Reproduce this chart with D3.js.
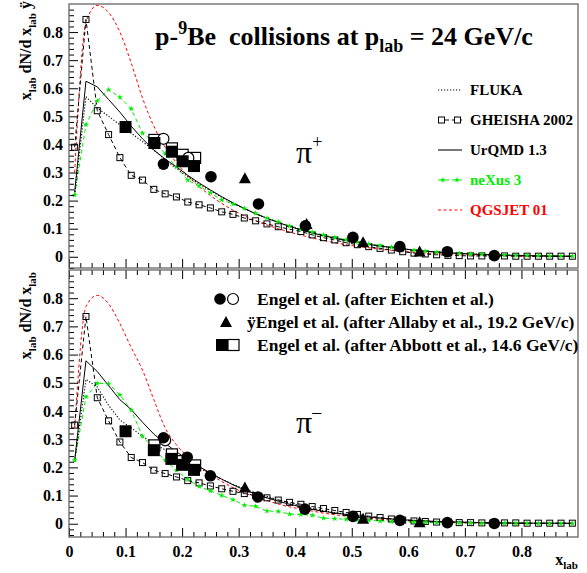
<!DOCTYPE html>
<html>
<head>
<meta charset="utf-8">
<script src="https://cdn.jsdelivr.net/npm/d3@7"></script>
<style>
  html, body { margin: 0; padding: 0; background: #fff; }
  svg { display: block; }
  text { font-family: "Liberation Serif", "Times New Roman", serif; }
</style>
</head>
<body>
<svg id="chart" width="587" height="573"></svg>
<script>
// x_lab grid of the model calculations
const xModel = [0.01,0.03,0.05,0.07,0.09,0.11,0.13,0.15,0.17,0.19,0.21,0.23,0.25,0.27,0.29,0.31,0.33,0.35,0.37,0.39,0.41,0.43,0.45,0.47,0.49,0.51,0.53,0.55,0.57,0.59,0.61,0.63,0.65,0.67,0.69,0.71,0.73,0.75,0.77,0.79,0.81,0.83,0.85,0.87,0.89];

// pi+ model curves
const flukaPlus   = [0.22,0.57,0.53,0.50,0.47,0.44,0.41,0.38,0.345,0.314,0.285,0.259,0.235,0.212,0.191,0.171,0.153,0.137,0.122,0.108,0.096,0.085,0.075,0.066,0.058,0.051,0.044,0.038,0.033,0.028,0.024,0.020,0.017,0.014,0.012,0.010,0.008,0.007,0.006,0.005,0.004,0.003,0.003,0.002,0.002];
const gheishaPlus = [0.39,0.845,0.52,0.435,0.353,0.29,0.273,0.24,0.224,0.213,0.195,0.185,0.174,0.16,0.151,0.138,0.128,0.117,0.107,0.098,0.09,0.078,0.068,0.06,0.05,0.043,0.036,0.03,0.024,0.018,0.013,0.01,0.007,0.005,0.004,0.003,0.003,0.003,0.003,0.002,0.002,0.002,0.002,0.002,0.002];
const urqmdPlus   = [0.23,0.625,0.605,0.56,0.515,0.465,0.42,0.38,0.348,0.32,0.29,0.263,0.238,0.214,0.192,0.172,0.153,0.137,0.122,0.108,0.096,0.085,0.075,0.066,0.058,0.051,0.044,0.038,0.033,0.028,0.024,0.020,0.017,0.014,0.012,0.010,0.008,0.007,0.006,0.005,0.004,0.003,0.003,0.002,0.002];
const nexusPlus   = [0.22,0.47,0.555,0.595,0.568,0.527,0.44,0.41,0.367,0.32,0.273,0.252,0.228,0.202,0.188,0.172,0.155,0.138,0.125,0.11,0.099,0.088,0.078,0.069,0.061,0.053,0.046,0.04,0.034,0.029,0.024,0.02,0.016,0.014,0.012,0.01,0.009,0.008,0.006,0.005,0.005,0.004,0.003,0.003,0.002];
const qgsjetPlus  = [0.30,0.835,0.895,0.87,0.80,0.69,0.565,0.465,0.39,0.335,0.288,0.25,0.218,0.19,0.166,0.146,0.128,0.113,0.1,0.088,0.077,0.067,0.058,0.05,0.043,0.037,0.032,0.027,0.023,0.019,0.016,0.013,0.011,0.009,0.007,0.006,0.005,0.004,0.003,0.003,0.002,0.002,0.002,0.001,0.001];

// pi- model curves
const flukaMinus   = [0.22,0.512,0.485,0.42,0.368,0.34,0.31,0.285,0.262,0.24,0.218,0.198,0.178,0.158,0.14,0.124,0.11,0.097,0.085,0.074,0.064,0.055,0.047,0.04,0.034,0.029,0.024,0.02,0.017,0.014,0.012,0.01,0.008,0.007,0.006,0.005,0.004,0.003,0.003,0.002,0.002,0.002,0.001,0.001,0.001];
const gheishaMinus = [0.35,0.735,0.447,0.365,0.29,0.235,0.217,0.19,0.178,0.166,0.153,0.145,0.134,0.124,0.115,0.107,0.1,0.092,0.084,0.076,0.069,0.061,0.054,0.047,0.04,0.033,0.027,0.022,0.017,0.013,0.01,0.008,0.006,0.005,0.004,0.004,0.003,0.003,0.003,0.003,0.002,0.002,0.002,0.002,0.002];
const urqmdMinus   = [0.225,0.578,0.54,0.49,0.44,0.405,0.36,0.318,0.285,0.255,0.228,0.203,0.18,0.158,0.138,0.12,0.106,0.092,0.08,0.069,0.06,0.051,0.044,0.038,0.033,0.028,0.024,0.02,0.017,0.014,0.012,0.01,0.008,0.007,0.006,0.005,0.004,0.003,0.003,0.002,0.002,0.002,0.002,0.002,0.002];
const nexusMinus   = [0.225,0.45,0.498,0.497,0.457,0.403,0.31,0.265,0.225,0.19,0.157,0.132,0.117,0.1,0.085,0.066,0.062,0.045,0.044,0.034,0.033,0.03,0.02,0.018,0.016,0.014,0.012,0.01,0.008,0.007,0.006,0.005,0.004,0.004,0.003,0.003,0.002,0.002,0.002,0.002,0.002,0.001,0.001,0.001,0.001];
const qgsjetMinus  = [0.34,0.77,0.81,0.78,0.71,0.625,0.545,0.44,0.34,0.28,0.238,0.205,0.175,0.15,0.128,0.11,0.095,0.082,0.07,0.06,0.052,0.045,0.038,0.032,0.027,0.023,0.019,0.016,0.013,0.011,0.009,0.007,0.006,0.005,0.004,0.003,0.003,0.002,0.002,0.002,0.001,0.001,0.001,0.001,0.001];

// Measurements, pi+
const eichtenPlusX     = [0.167,0.251,0.335,0.418,0.502,0.585,0.669,0.752];
const eichtenPlusY     = [0.33,0.285,0.188,0.11,0.069,0.036,0.018,0.004];
const eichtenOpenPlusX = [0.167,0.211];
const eichtenOpenPlusY = [0.42,0.352];
const allabyPlusX      = [0.311,0.42,0.52,0.62];
const allabyPlusY      = [0.28,0.117,0.052,0.019];
const abbottPlusX      = [0.1,0.151,0.182,0.201,0.221];
const abbottPlusY      = [0.462,0.405,0.374,0.34,0.323];
const abbottOpenPlusX  = [0.151,0.182,0.201,0.223];
const abbottOpenPlusY  = [0.416,0.386,0.363,0.352];

// Measurements, pi-
const eichtenMinusX     = [0.167,0.209,0.25,0.334,0.417,0.502,0.585,0.669,0.752];
const eichtenMinusY     = [0.305,0.236,0.17,0.095,0.052,0.026,0.012,0.004,0.001];
const eichtenOpenMinusX = [0.17];
const eichtenOpenMinusY = [0.296];
const allabyMinusX      = [0.311,0.52,0.62];
const allabyMinusY      = [0.129,0.018,0.005];
const abbottMinusX      = [0.1,0.15,0.181,0.2,0.221];
const abbottMinusY      = [0.328,0.261,0.23,0.209,0.191];
const abbottOpenMinusX  = [0.151,0.182,0.201,0.223];
const abbottOpenMinusY  = [0.278,0.246,0.222,0.207];

// Axis ticks
const xMajor = [0,0.1,0.2,0.3,0.4,0.5,0.6,0.7,0.8];
const yMajor = [0,0.1,0.2,0.3,0.4,0.5,0.6,0.7,0.8];
const tickText = d => d === 0 ? "0" : d3.format(".1f")(d);

const modelNames = ["FLUKA","GHEISHA 2002","UrQMD 1.3","neXus 3","QGSJET 01"];
const dataNames = ["Engel et al. (after Eichten et al.)",
                   "\u00ffEngel et al. (after Allaby et al., 19.2 GeV/c)",
                   "Engel et al. (after Abbott et al., 14.6 GeV/c)"];

const svg = d3.select("#chart");
const X0 = 69, X1 = 578;
const x = d3.scaleLinear([0, 0.9], [X0, X1]);
const yTop = d3.scaleLinear([-0.04, 0.9], [268, 4]);
const yBot = d3.scaleLinear([-0.047, 0.9], [537, 270]);

const styles = {
  fluka:   {stroke: "#000", dash: "1.2,1.8", width: 1.1, curve: d3.curveLinear},
  gheisha: {stroke: "#000", dash: "4,3", width: 1, curve: d3.curveLinear},
  urqmd:   {stroke: "#000", dash: null, width: 1, curve: d3.curveLinear},
  nexus:   {stroke: "#00ee00", dash: "4,3", width: 1, curve: d3.curveLinear},
  qgsjet:  {stroke: "#ff0000", dash: "3,2.5", width: 1, curve: d3.curveMonotoneX}
};

const star = d3.symbol().type(d3.symbolStar).size(11);

function minorValues(lo, hi) {
  const v = [];
  for (let i = Math.round(lo * 50); i <= Math.round(hi * 50); i++) if (i % 5 !== 0) v.push(i / 50);
  return v;
}

function drawCurve(g, y, ys, st) {
  const line = d3.line().curve(st.curve).x((d, i) => x(xModel[i])).y(d => y(d));
  g.append("path").attr("d", line(ys)).attr("fill", "none")
    .attr("stroke", st.stroke).attr("stroke-width", st.width)
    .attr("stroke-dasharray", st.dash);
}

function drawPanel(y, top, bottom, curves, pts, labelsBelow) {
  const g = svg.append("g");
  const clipId = "clip" + top;
  svg.append("clipPath").attr("id", clipId).append("rect")
    .attr("x", X0).attr("y", top).attr("width", X1 - X0).attr("height", bottom - top);
  const pg = g.append("g").attr("clip-path", `url(#${clipId})`);

  // model curves
  drawCurve(pg, y, curves.qgsjet, styles.qgsjet);
  drawCurve(pg, y, curves.nexus, styles.nexus);
  drawCurve(pg, y, curves.urqmd, styles.urqmd);
  drawCurve(pg, y, curves.fluka, styles.fluka);
  drawCurve(pg, y, curves.gheisha, styles.gheisha);

  // GHEISHA markers
  pg.selectAll(null).data(curves.gheisha).join("rect")
    .attr("x", (d, i) => x(xModel[i]) - 3).attr("y", d => y(d) - 3)
    .attr("width", 6).attr("height", 6)
    .attr("fill", "none").attr("stroke", "#000").attr("stroke-width", 1);
  // neXus markers
  pg.selectAll(null).data(curves.nexus).join("path")
    .attr("d", star).attr("fill", "#00ee00")
    .attr("transform", (d, i) => `translate(${x(xModel[i])},${y(d)})`);

  // measurements: open symbols behind the filled ones
  pg.selectAll(null).data(pts.abbottOpenX).join("rect")
    .attr("x", d => x(d) - 5.5).attr("y", (d, i) => y(pts.abbottOpenY[i]) - 5.5)
    .attr("width", 11).attr("height", 11)
    .attr("fill", "#fff").attr("stroke", "#000").attr("stroke-width", 1.2);
  pg.selectAll(null).data(pts.eichtenOpenX).join("circle")
    .attr("cx", d => x(d)).attr("cy", (d, i) => y(pts.eichtenOpenY[i])).attr("r", 5.5)
    .attr("fill", "#fff").attr("stroke", "#000").attr("stroke-width", 1.2);
  pg.selectAll(null).data(pts.abbottX).join("rect")
    .attr("x", d => x(d) - 6).attr("y", (d, i) => y(pts.abbottY[i]) - 6)
    .attr("width", 12).attr("height", 12).attr("fill", "#000");
  pg.selectAll(null).data(pts.eichtenX).join("circle")
    .attr("cx", d => x(d)).attr("cy", (d, i) => y(pts.eichtenY[i])).attr("r", 5.8)
    .attr("fill", "#000");
  pg.selectAll(null).data(pts.allabyX).join("path")
    .attr("d", "M0,-6L6,5L-6,5Z").attr("fill", "#000")
    .attr("transform", (d, i) => `translate(${x(d)},${y(pts.allabyY[i])})`);

  // axes
  const tickStyle = sel => {
    sel.selectAll("path.domain").remove();
    sel.selectAll("line").attr("stroke", "#000").attr("stroke-width", 1);
    sel.selectAll("text").attr("font-family", "Liberation Serif").attr("font-weight", "bold")
      .attr("font-size", 16).attr("fill", "#000");
  };
  g.append("g").attr("transform", `translate(${X0},0)`)
    .call(d3.axisLeft(y).tickValues(yMajor).tickSizeInner(-9).tickSizeOuter(0).tickPadding(6).tickFormat(tickText))
    .call(tickStyle);
  g.append("g").attr("transform", `translate(${X0},0)`)
    .call(d3.axisLeft(y).tickValues(minorValues(-0.04, 0.88)).tickSizeInner(-5).tickSizeOuter(0).tickFormat(""))
    .call(tickStyle);
  g.append("g").attr("transform", `translate(0,${bottom})`)
    .call(d3.axisBottom(x).tickValues(xMajor).tickSizeInner(-9).tickSizeOuter(0).tickPadding(9)
      .tickFormat(labelsBelow ? tickText : ""))
    .call(tickStyle);
  g.append("g").attr("transform", `translate(0,${bottom})`)
    .call(d3.axisBottom(x).tickValues(minorValues(0, 0.88)).tickSizeInner(-5).tickSizeOuter(0).tickFormat(""))
    .call(tickStyle);
  if (labelsBelow) {
    g.append("g").attr("transform", `translate(0,${top})`)
      .call(d3.axisTop(x).tickValues(xMajor).tickSizeInner(-9).tickSizeOuter(0).tickFormat(""))
      .call(tickStyle);
    g.append("g").attr("transform", `translate(0,${top})`)
      .call(d3.axisTop(x).tickValues(minorValues(0, 0.88)).tickSizeInner(-5).tickSizeOuter(0).tickFormat(""))
      .call(tickStyle);
  }

  // frame
  g.append("rect").attr("x", X0).attr("y", top).attr("width", X1 - X0).attr("height", bottom - top)
    .attr("fill", "none").attr("stroke", "#666").attr("stroke-width", 1.3);
  return g;
}

drawPanel(yTop, 4, 268,
  {fluka: flukaPlus, gheisha: gheishaPlus, urqmd: urqmdPlus, nexus: nexusPlus, qgsjet: qgsjetPlus},
  {eichtenX: eichtenPlusX, eichtenY: eichtenPlusY, eichtenOpenX: eichtenOpenPlusX, eichtenOpenY: eichtenOpenPlusY,
   allabyX: allabyPlusX, allabyY: allabyPlusY, abbottX: abbottPlusX, abbottY: abbottPlusY,
   abbottOpenX: abbottOpenPlusX, abbottOpenY: abbottOpenPlusY}, false);

drawPanel(yBot, 270, 537,
  {fluka: flukaMinus, gheisha: gheishaMinus, urqmd: urqmdMinus, nexus: nexusMinus, qgsjet: qgsjetMinus},
  {eichtenX: eichtenMinusX, eichtenY: eichtenMinusY, eichtenOpenX: eichtenOpenMinusX, eichtenOpenY: eichtenOpenMinusY,
   allabyX: allabyMinusX, allabyY: allabyMinusY, abbottX: abbottMinusX, abbottY: abbottMinusY,
   abbottOpenX: abbottOpenMinusX, abbottOpenY: abbottOpenMinusY}, true);

// Title
const title = svg.append("text").attr("x", 155).attr("y", 45)
  .attr("font-weight", "bold").attr("font-size", 26).attr("fill", "#000");
title.append("tspan").text("p-");
title.append("tspan").attr("font-size", 18).attr("dy", -11).text("9");
title.append("tspan").attr("dy", 11).text("Be\u00a0 collisions at p");
title.append("tspan").attr("font-size", 18).attr("dy", 7).text("lab");
title.append("tspan").attr("dy", -7).text(" = 24 GeV/c");

// Y axis titles
function yTitle(endY, withTail) {
  const t = svg.append("text").attr("transform", `translate(31,${endY}) rotate(-90)`)
    .attr("text-anchor", "end").attr("font-weight", "bold").attr("font-size", 16).attr("fill", "#000");
  t.append("tspan").text("x");
  t.append("tspan").attr("font-size", 11).attr("dy", 5).text("lab");
  t.append("tspan").attr("dy", -5).text(" dN/d x");
  t.append("tspan").attr("font-size", 11).attr("dy", 5).text("lab");
  if (withTail) t.append("tspan").attr("dy", -5).text(" \u00ff");
}
yTitle(1, true);
yTitle(272, false);

// X axis title
const xt = svg.append("text").attr("x", 578).attr("y", 565).attr("text-anchor", "end")
  .attr("font-weight", "bold").attr("font-size", 16).attr("fill", "#000");
xt.append("tspan").text("x");
xt.append("tspan").attr("font-size", 11).attr("dy", 4).text("lab");

// Particle labels
function particle(yPos, sign) {
  const t = svg.append("text").attr("x", 296).attr("y", yPos).attr("font-size", 32).attr("fill", "#000");
  t.append("tspan").text("\u03c0");
  t.append("tspan").attr("font-size", 18).attr("dy", -15).text(sign);
}
particle(163, "+");
particle(433, "\u2013");

// Model legend
const legRows = [90, 120, 150, 180, 210];
const legColors = ["#000", "#000", "#000", "#00ee00", "#ff0000"];
const legStyles = [styles.fluka, styles.gheisha, {stroke: "#555", dash: null, width: 1.6}, styles.nexus, styles.qgsjet];
modelNames.forEach((name, i) => {
  const ly = legRows[i];
  const st = legStyles[i];
  svg.append("line").attr("x1", 438).attr("x2", 462).attr("y1", ly).attr("y2", ly)
    .attr("stroke", st.stroke).attr("stroke-width", st.width).attr("stroke-dasharray", st.dash);
  if (i === 1) {
    [441.5, 457.5].forEach(cx => svg.append("rect").attr("x", cx - 3).attr("y", ly - 3)
      .attr("width", 6).attr("height", 6).attr("fill", "#fff").attr("stroke", "#000"));
  }
  if (i === 3) {
    [443, 457].forEach(cx => svg.append("path").attr("d", star).attr("fill", "#00ee00")
      .attr("transform", `translate(${cx},${ly})`));
  }
  svg.append("text").attr("x", 470).attr("y", ly + 5).attr("font-weight", "bold")
    .attr("font-size", 15).attr("fill", legColors[i]).text(name);
});

// Measurement legend
const dRows = [299, 322, 345];
svg.append("circle").attr("cx", 220).attr("cy", dRows[0]).attr("r", 5.8).attr("fill", "#000");
svg.append("circle").attr("cx", 233).attr("cy", dRows[0]).attr("r", 5.5).attr("fill", "#fff")
  .attr("stroke", "#000").attr("stroke-width", 1.2);
svg.append("path").attr("d", "M0,-6L6,5L-6,5Z").attr("fill", "#000")
  .attr("transform", `translate(226,${dRows[1]})`);
svg.append("rect").attr("x", 216).attr("y", dRows[2] - 6).attr("width", 12).attr("height", 12).attr("fill", "#000");
svg.append("rect").attr("x", 228).attr("y", dRows[2] - 5.5).attr("width", 11).attr("height", 11)
  .attr("fill", "#fff").attr("stroke", "#000").attr("stroke-width", 1.2);
dataNames.forEach((name, i) => {
  svg.append("text").attr("x", i === 1 ? 247 : 257).attr("y", dRows[i] + 6)
    .attr("font-weight", "bold").attr("font-size", 17.5).attr("fill", "#000").text(name);
});
</script>
</body>
</html>
